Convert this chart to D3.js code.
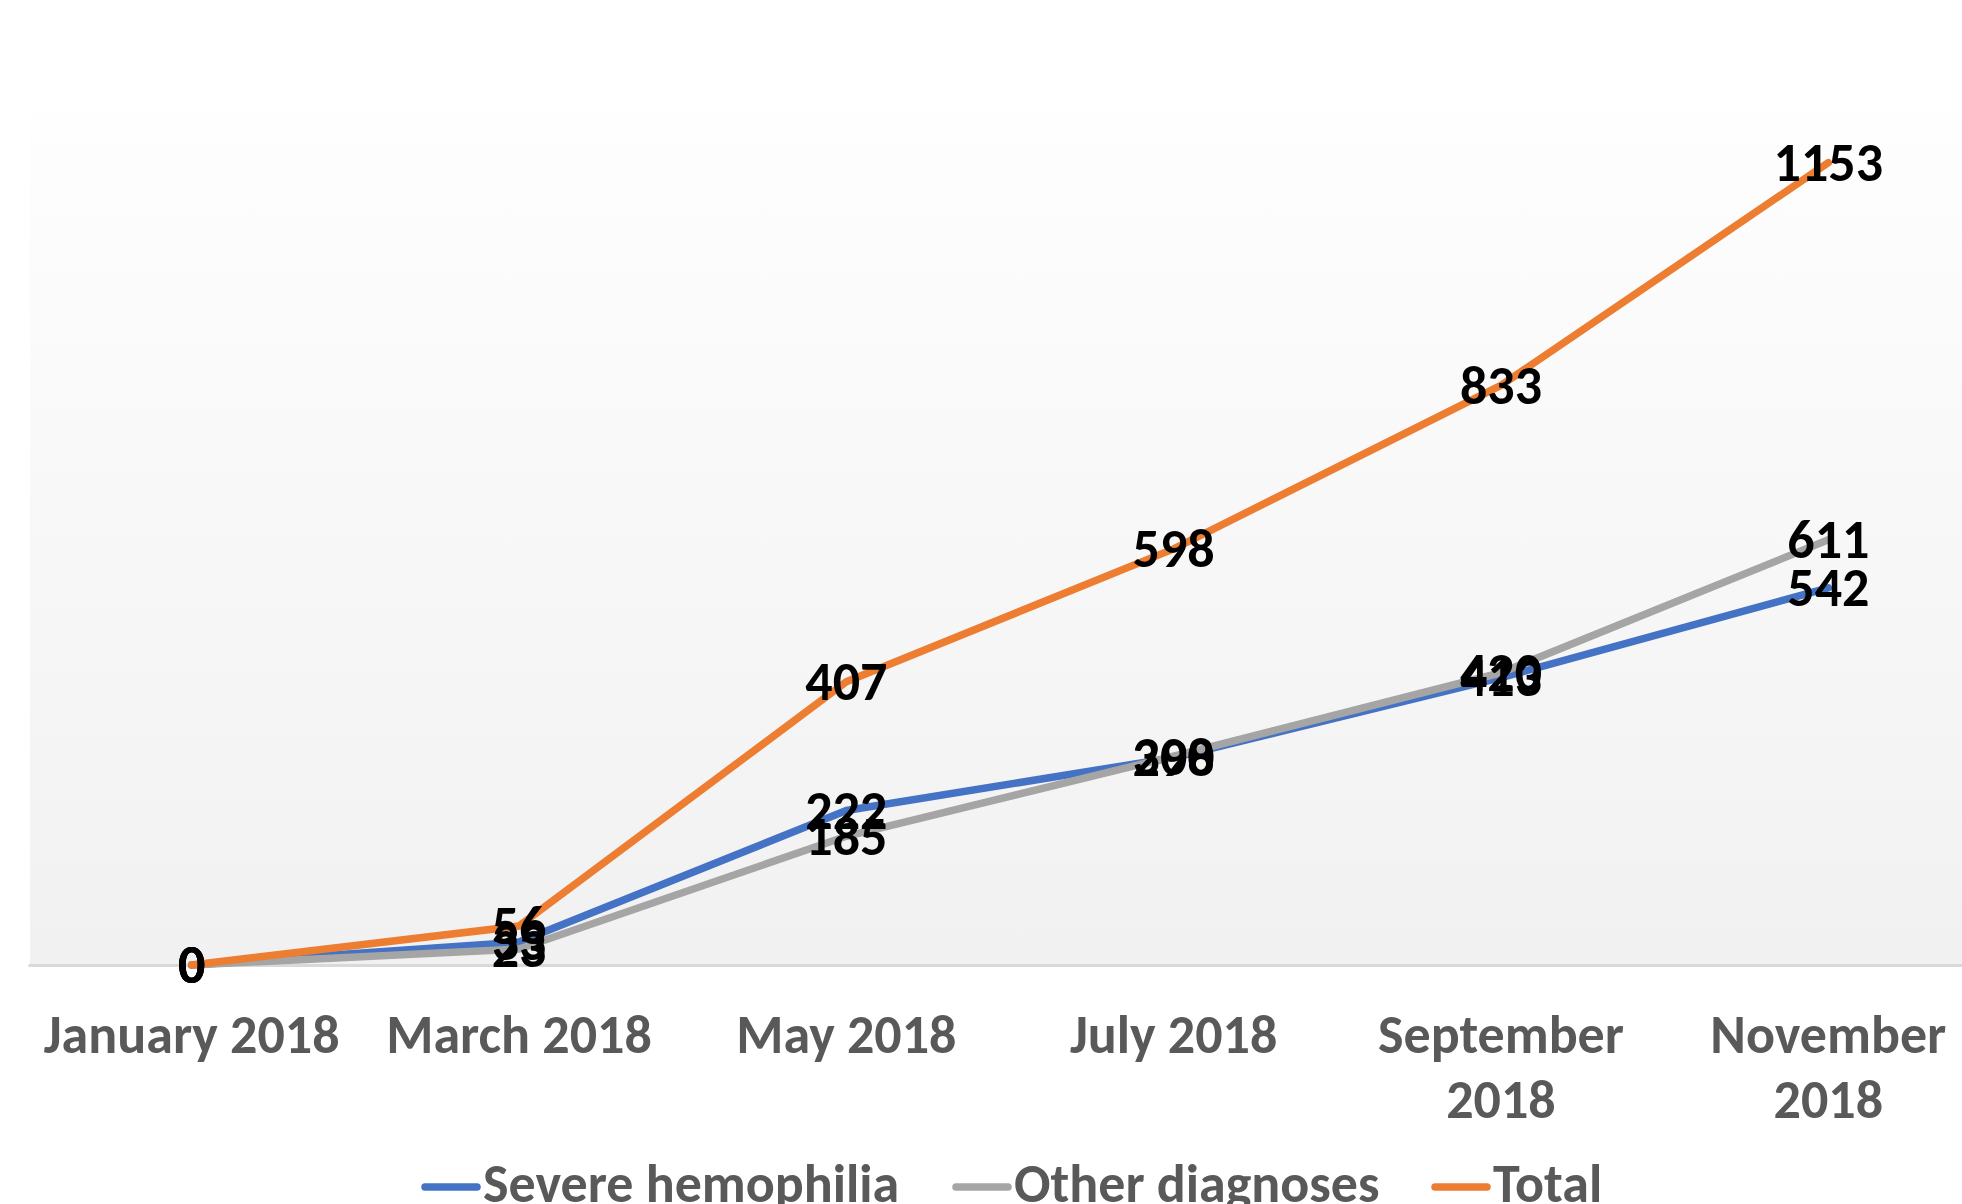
<!DOCTYPE html>
<html lang="en">
<head>
    <meta charset="UTF-8">
    <title>Patients over 2018</title>
    <script src="https://d3js.org/d3.v7.min.js"></script>
    <style>
        body { margin: 0; background: #ffffff; overflow: hidden; }
        text { font-family: Carlito, "Open Sans", "Noto Sans", sans-serif; font-weight: bold; }
    </style>
</head>
<body>
    <div id="chart"></div>

    <script>
        // Chart data
        const categories = ["January 2018", "March 2018", "May 2018", "July 2018", "September 2018", "November 2018"];
        const severe = [0, 33, 222, 298, 413, 542];
        const other = [0, 23, 185, 300, 420, 611];
        const total = [0, 56, 407, 598, 833, 1153];

        const seriesNames = ["Severe hemophilia", "Other diagnoses", "Total"];
        const seriesColors = ["#4472C4", "#A5A5A5", "#ED7D31"];

        const width = 1962;
        const height = 1204;

        const svg = d3.select("#chart")
            .append("svg")
            .attr("width", width)
            .attr("height", height);

        // plot area runs a bit past the right edge, like the original export
        const plotLeft = 28, plotRight = 1992, plotTop = 113, plotBottom = 965;

        const x = d3.scaleBand()
            .domain(categories)
            .range([plotLeft, plotRight]);

        const y = d3.scaleLinear()
            .domain([0, 1200])
            .range([plotBottom, 130]);

        // soft gradient background of the plot area
        const grad = svg.append("defs").append("linearGradient")
            .attr("id", "bg")
            .attr("x1", 0).attr("y1", 0).attr("x2", 0).attr("y2", 1);
        grad.append("stop").attr("offset", "0%").attr("stop-color", "#fefefe");
        grad.append("stop").attr("offset", "100%").attr("stop-color", "#f1f1f1");

        svg.append("rect")
            .attr("x", plotLeft + 2)
            .attr("y", plotTop)
            .attr("width", width - plotLeft)
            .attr("height", plotBottom - plotTop)
            .attr("fill", "url(#bg)");

        // category axis
        const xAxis = svg.append("g")
            .attr("transform", `translate(0,${plotBottom})`)
            .call(d3.axisBottom(x).tickSize(0).tickFormat(""));
        xAxis.select(".domain")
            .attr("stroke", "#d9d9d9")
            .attr("stroke-width", 3);

        // wrap the long month names onto two lines
        const wrapAt = 320;
        categories.forEach(c => {
            const cx = x(c) + x.bandwidth() / 2;
            const t = svg.append("text")
                .attr("x", cx)
                .attr("y", 1053)
                .attr("text-anchor", "middle")
                .attr("fill", "#595959")
                .style("font-size", "54px");
            const parts = c.split(" ");
            t.text(c);
            if (t.node().getComputedTextLength() > wrapAt) {
                t.text(parts[0]);
                svg.append("text")
                    .attr("x", cx)
                    .attr("y", 1118)
                    .attr("text-anchor", "middle")
                    .attr("fill", "#595959")
                    .style("font-size", "54px")
                    .text(parts.slice(1).join(" "));
            }
        });

        const series = [severe, other, total];

        const line = d3.line()
            .x((d, i) => x(categories[i]) + x.bandwidth() / 2)
            .y(d => y(d));

        series.forEach((values, s) => {
            svg.append("path")
                .datum(values)
                .attr("d", line)
                .attr("fill", "none")
                .attr("stroke", seriesColors[s])
                .attr("stroke-width", 7.5)
                .attr("stroke-linejoin", "round")
                .attr("stroke-linecap", "round");
        });

        // data labels sit centred on each point
        series.forEach(values => {
            svg.append("g")
                .selectAll("text")
                .data(values)
                .join("text")
                .attr("x", (d, i) => x(categories[i]) + x.bandwidth() / 2)
                .attr("y", d => y(d))
                .attr("dy", "0.34em")
                .attr("text-anchor", "middle")
                .attr("fill", "#000000")
                .style("font-size", "54px")
                .text(d => d);
        });

        // legend along the bottom edge
        const legendX = [421, 952, 1431];
        const legend = svg.append("g");
        seriesNames.forEach((name, s) => {
            legend.append("line")
                .attr("x1", legendX[s] + 4)
                .attr("x2", legendX[s] + 56)
                .attr("y1", 1187)
                .attr("y2", 1187)
                .attr("stroke", seriesColors[s])
                .attr("stroke-width", 7.5)
                .attr("stroke-linecap", "round");
            legend.append("text")
                .attr("x", legendX[s] + 62)
                .attr("y", 1202)
                .attr("fill", "#595959")
                .style("font-size", "54px")
                .text(name);
        });
    </script>
</body>
</html>
